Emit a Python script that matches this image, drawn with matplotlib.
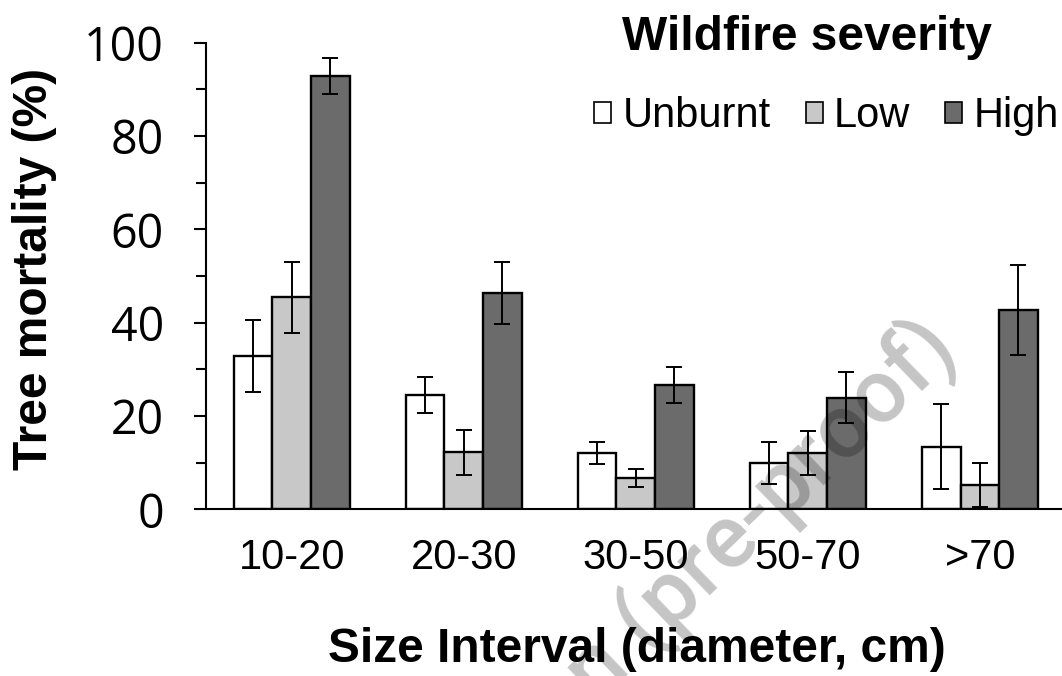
import matplotlib
matplotlib.use('Agg')
import matplotlib.pyplot as plt
from matplotlib.patches import Patch
import numpy as np

# values (tree mortality %, +/- error)
size_classes = ['10-20', '20-30', '30-50', '50-70', '>70']
severities = ['Unburnt', 'Low', 'High']
unburnt = [32.8, 24.5, 12.1, 9.9, 13.4]
unburnt_err = [7.7, 3.8, 2.4, 4.5, 9.1]
low = [45.4, 12.2, 6.7, 12.1, 5.2]
low_err = [7.7, 4.8, 1.9, 4.7, 4.8]
high = [92.9, 46.4, 26.7, 23.9, 42.7]
high_err = [3.8, 6.6, 3.9, 5.5, 9.7]

colors = ['#ffffff', '#c8c8c8', '#6b6b6b']
arial = 'Liberation Sans'

fig = plt.figure(figsize=(10.62, 6.76), dpi=100)
ax = fig.add_axes([0.1937, 0.2466, 0.8063, 0.6902])

x = np.arange(len(size_classes))
w = 0.224
series = [(unburnt, unburnt_err), (low, low_err), (high, high_err)]
for i, (vals, errs) in enumerate(series):
    ax.bar(x + (i - 1) * w, vals, w, yerr=errs, color=colors[i],
           edgecolor='black', linewidth=1.7, capsize=6,
           error_kw=dict(elinewidth=1.4, capthick=1.4, ecolor='black'),
           zorder=2)

ax.set_xlim(-0.5, 4.478)
ax.set_ylim(0, 100)
ax.set_yticks(range(0, 101, 20))
ax.set_yticks(range(10, 100, 20), minor=True)
ax.set_xticks(x)
ax.set_xticklabels(size_classes, fontfamily=arial, fontsize=30)
for lab in ax.get_yticklabels():
    lab.set_fontfamily('Open Sans')
    lab.set_fontsize(33.5)
ax.tick_params(axis='y', which='major', length=9, width=1.5, pad=21)
ax.tick_params(axis='y', which='minor', length=7, width=1.5)
ax.tick_params(axis='x', length=0, pad=21)

for s in ['top', 'right']:
    ax.spines[s].set_visible(False)
ax.spines['left'].set_linewidth(1.5)
ax.spines['bottom'].set_linewidth(1.5)

ax.set_xlabel('Size Interval (diameter, cm)', fontfamily=arial,
              fontweight='bold', fontsize=34.5)
ax.xaxis.set_label_coords(0.504, -0.252)
ax.set_ylabel('Tree mortality (%)', fontfamily=arial,
              fontweight='bold', fontsize=34.5)
ax.yaxis.set_label_coords(-0.174, 0.515)

handles = [Patch(facecolor=c, edgecolor='black', linewidth=1.2) for c in colors]
# trailing spaces nudge the centred title a little to the left, as in the original
leg = ax.legend(handles, severities, ncol=3, loc='upper right',
                bbox_to_anchor=(0.997, 0.978), bbox_transform=fig.transFigure,
                frameon=False, title='Wildfire severity   ',
                title_fontproperties=dict(family=arial, weight='bold', size=34.5),
                prop=dict(family=arial, size=30),
                handlelength=0.41, handleheight=0.41, handletextpad=0.27,
                columnspacing=0.84, borderpad=0, borderaxespad=0,
                labelspacing=0.87)

# faint watermark across the plot
fig.text(0.888, 0.505, 'ion (pre-proof)', fontfamily='Roboto', fontsize=64,
         fontweight='medium', color='black', alpha=0.23, rotation=44,
         rotation_mode='anchor', ha='right', va='center', zorder=5)

fig.savefig('out.png', dpi=100)
